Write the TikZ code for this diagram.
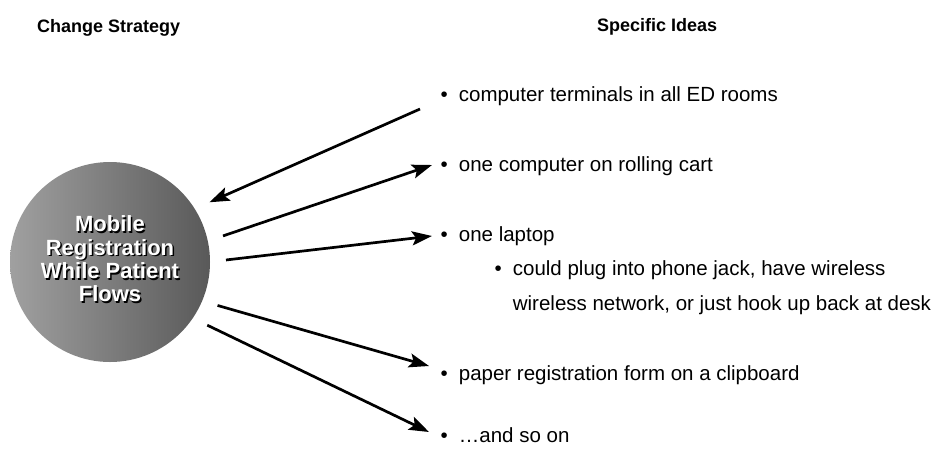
\documentclass[tikz,border=0pt]{standalone}
\usepackage{fontspec}
\setmainfont{Liberation Sans}
\usepackage{tikz}
\usetikzlibrary{arrows.meta, positioning, calc}
\definecolor{HubLight}{HTML}{A0A0A0}
\definecolor{HubDark}{HTML}{595959}
\newcommand{\ideabullet}{\textbullet\hspace{11pt}}

\begin{document}
\begin{tikzpicture}[x=1pt, y=-1pt,
    heading/.style={anchor=base west, inner sep=0pt, font=\fontsize{18}{20}\selectfont\bfseries},
    idea/.style={anchor=base west, inner sep=0pt, font=\fontsize{20.5}{24}\selectfont},
    hubtext/.style={align=center, inner sep=0pt, font=\fontsize{22}{23.3}\selectfont\bfseries},
    conn/.style={line width=2.7pt, -{Stealth[length=20pt, width=14pt, inset=4pt]}}]
    \useasboundingbox (0,0) rectangle (942,451);

    \node[heading] (hStrategy) at (37,32) {Change Strategy};
    \node[heading] (hIdeas) at (597,31) {Specific Ideas};

    \node[circle, minimum size=200pt, inner sep=0pt, outer sep=16pt, left color=HubLight, right color=HubDark] (hub) at (110,262) {};
    \node[hubtext, black] (hubshadow) at ($(hub.center)+(1.5,-1.5)$) {Mobile\\Registration\\While Patient\\Flows};
    \node[hubtext, white] (hublabel) at ($(hub.center)+(0,-3)$) {Mobile\\Registration\\While Patient\\Flows};

    \node[idea] (i1) at (440.5,101) {\ideabullet computer terminals in all ED rooms};
    \node[idea] (i2) at (440.5,171) {\ideabullet one computer on rolling cart};
    \node[idea] (i3) at (440.5,241) {\ideabullet one laptop};
    \node[idea, font=\fontsize{20.5}{35}\selectfont] (i3sub) at (494.5,275) {\ideabullet\begin{tabular}[t]{@{}l@{}}could plug into phone jack, have wireless\\wireless network, or just hook up back at desk\end{tabular}};
    \node[idea] (i4) at (440.5,380) {\ideabullet paper registration form on a clipboard};
    \node[idea] (i5) at (440.5,442) {\ideabullet …and so on};

    \draw[conn] ($(i1.base west)+(-20.5,8)$) -- (hub.31);
    \draw[conn] (hub.13) -- ($(i2.base west)+(-8.5,-6)$);
    \draw[conn] (hub.1) -- ($(i3.base west)+(-8.5,-5)$);
    \draw[conn] (hub.-22) -- ($(i4.base west)+(-11.5,-14)$);
    \draw[conn] (hub.-33) -- ($(i5.base west)+(-11.5,-10)$);
\end{tikzpicture}
\end{document}
